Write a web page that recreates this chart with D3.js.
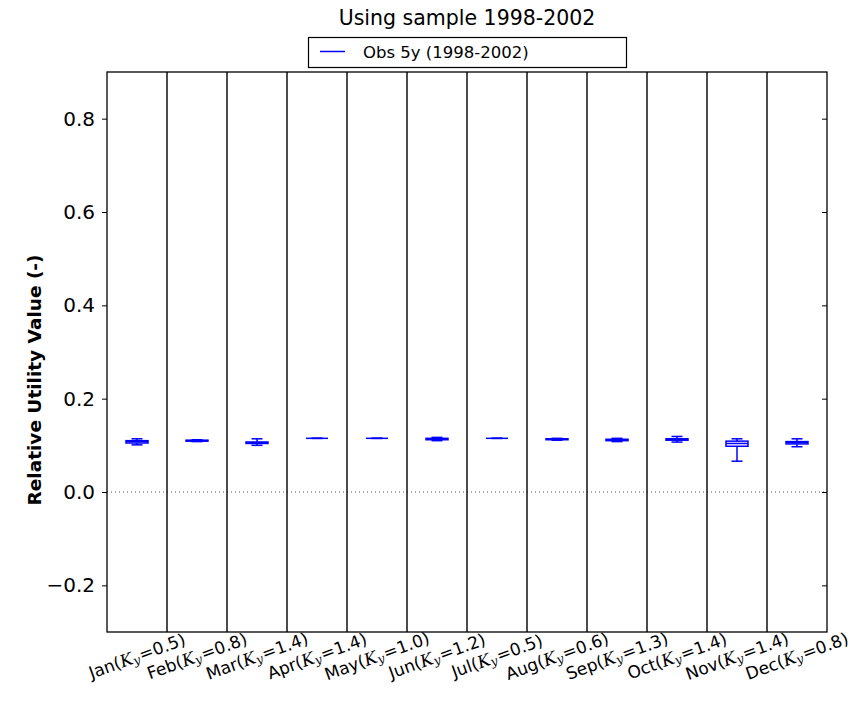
<!DOCTYPE html>
<html><head><meta charset="utf-8">
<script src="https://cdn.jsdelivr.net/npm/d3@7"></script>
<style>body{margin:0;background:#fff;} text{font-family:"DejaVu Sans",sans-serif;}</style>
</head><body>
<svg id="c" width="861" height="705"></svg>
<script>
const months = ["Jan","Feb","Mar","Apr","May","Jun","Jul","Aug","Sep","Oct","Nov","Dec"];
const ky = ["0.5","0.8","1.4","1.4","1.0","1.2","0.5","0.6","1.3","1.4","1.4","0.8"];
const whislo = [0.101,0.108,0.100,0.115,0.115,0.110,0.115,0.111,0.108,0.107,0.066,0.097];
const q1     = [0.105,0.109,0.104,0.115,0.115,0.112,0.115,0.112,0.110,0.111,0.098,0.103];
const med    = [0.108,0.110,0.106,0.115,0.115,0.114,0.115,0.113,0.112,0.113,0.104,0.106];
const q3     = [0.110,0.111,0.107,0.115,0.115,0.115,0.115,0.114,0.113,0.114,0.109,0.108];
const whishi = [0.114,0.112,0.114,0.115,0.115,0.117,0.115,0.115,0.115,0.119,0.114,0.114];
const yTicks = [-0.2,0.0,0.2,0.4,0.6,0.8];
const title = "Using sample 1998-2002";
const legendLabel = "Obs 5y (1998-2002)";
const yLabel = "Relative Utility Value (-)";

const L=107,R=827,T=72,B=632;
const svg=d3.select("#c");
const x=d3.scaleBand().domain(months).range([L,R]).padding(0);
const y=d3.scaleLinear().domain([-0.3,0.9]).range([B,T]);
const blue="#0000ff";

// zero dotted line
svg.append("line").attr("x1",L).attr("x2",R).attr("y1",y(0)).attr("y2",y(0))
  .attr("stroke","#555").attr("stroke-width",1).attr("stroke-dasharray","1,3");

// column dividers
svg.selectAll(".div").data(months.slice(1)).enter().append("line")
  .attr("x1",d=>x(d)).attr("x2",d=>x(d)).attr("y1",T).attr("y2",B)
  .attr("stroke","#111").attr("stroke-width",1.5);

// boxes
const bw=22, cw=11;
const data=months.map((m,i)=>({m,lo:whislo[i],q1:q1[i],med:med[i],q3:q3[i],hi:whishi[i]}));
const g=svg.selectAll(".box").data(data).enter().append("g")
  .attr("transform",d=>`translate(${x(d.m)+x.bandwidth()/2},0)`);
g.append("line").attr("x1",0).attr("x2",0).attr("y1",d=>y(d.hi)).attr("y2",d=>y(d.q3)).attr("stroke",blue).attr("stroke-width",1.5);
g.append("line").attr("x1",0).attr("x2",0).attr("y1",d=>y(d.lo)).attr("y2",d=>y(d.q1)).attr("stroke",blue).attr("stroke-width",1.5);
g.append("line").attr("x1",-cw/2).attr("x2",cw/2).attr("y1",d=>y(d.hi)).attr("y2",d=>y(d.hi)).attr("stroke",blue).attr("stroke-width",1.5);
g.append("line").attr("x1",-cw/2).attr("x2",cw/2).attr("y1",d=>y(d.lo)).attr("y2",d=>y(d.lo)).attr("stroke",blue).attr("stroke-width",1.5);
g.append("rect").attr("x",-bw/2).attr("width",bw).attr("y",d=>y(d.q3)).attr("height",d=>Math.max(0,y(d.q1)-y(d.q3)))
  .attr("fill","none").attr("stroke",blue).attr("stroke-width",1.5);
g.append("line").attr("x1",-bw/2).attr("x2",bw/2).attr("y1",d=>y(d.med)).attr("y2",d=>y(d.med)).attr("stroke",blue).attr("stroke-width",1.5);

// frame
svg.append("rect").attr("x",L).attr("y",T).attr("width",R-L).attr("height",B-T)
  .attr("fill","none").attr("stroke","#000").attr("stroke-width",1.3);

// y axes
const ya=svg.append("g").attr("transform",`translate(${L},0)`)
  .call(d3.axisLeft(y).tickValues(yTicks).tickSize(5).tickPadding(7).tickFormat(d=>d3.format(".1f")(d).replace("-","\u2212")));
ya.select(".domain").remove();
ya.selectAll("text").attr("font-size",20).attr("fill","#000").style("font-family","DejaVu Sans");
ya.selectAll("line").attr("stroke","#000");
const yr=svg.append("g").attr("transform",`translate(${R},0)`)
  .call(d3.axisLeft(y).tickValues(yTicks).tickSize(5).tickFormat(""));
yr.select(".domain").remove();
yr.selectAll("line").attr("stroke","#000");

// x labels
const xl=svg.selectAll(".xl").data(months).enter().append("text")
  .attr("transform",d=>`translate(${x(d)+x.bandwidth()/2},656) rotate(-20)`)
  .attr("text-anchor","middle").attr("dominant-baseline","central")
  .attr("font-size",17).attr("fill","#000");
xl.append("tspan").text(d=>d+"(");
xl.append("tspan").text("K").style("font-family","DejaVu Serif").attr("font-style","italic");
xl.append("tspan").text("y").style("font-family","DejaVu Serif").attr("font-style","italic").attr("font-size",12).attr("dy",4);
xl.append("tspan").text((d,i)=>"="+ky[i]+")").attr("dy",-4).attr("dx",1);

// title
svg.append("text").attr("x",(L+R)/2).attr("y",25).attr("text-anchor","middle")
  .attr("font-size",20.5).attr("fill","#000").text(title);

// legend
svg.append("rect").attr("x",308.5).attr("y",37.5).attr("width",318).attr("height",30)
  .attr("fill","#fff").attr("stroke","#000").attr("stroke-width",1.2);
svg.append("line").attr("x1",320).attr("x2",345).attr("y1",51.5).attr("y2",51.5).attr("stroke",blue).attr("stroke-width",1.5);
svg.append("text").attr("x",363).attr("y",58).attr("font-size",16.5).attr("fill","#000").text(legendLabel);

// y label
svg.append("text").attr("transform",`translate(41,${(T+B)/2 + 28}) rotate(-90)`).attr("text-anchor","middle")
  .attr("font-size",18.5).attr("font-weight","bold").attr("fill","#000").text(yLabel);
</script>
</body></html>
